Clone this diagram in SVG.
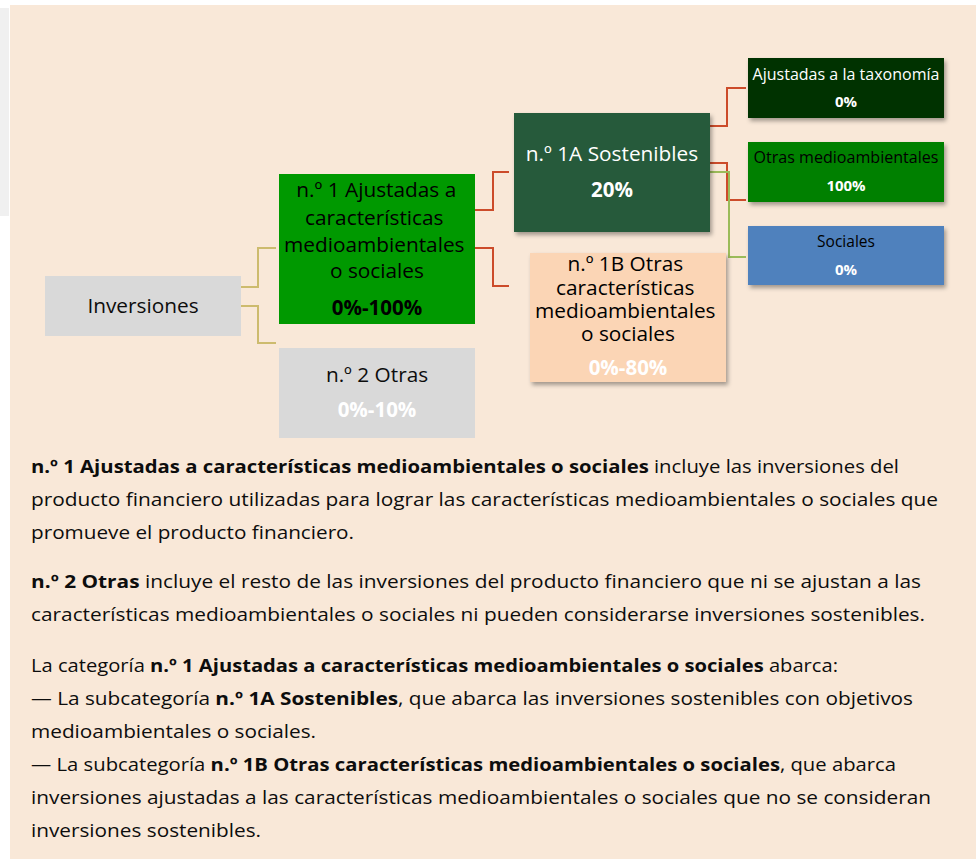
<svg xmlns="http://www.w3.org/2000/svg" width="976" height="859" viewBox="0 0 976 859">
<defs>
<filter id="sh" x="-10%" y="-10%" width="125%" height="130%">
<feDropShadow dx="2" dy="3" stdDeviation="2" flood-color="#000" flood-opacity="0.35"/>
</filter>
<style>
.t{font-family:"Open Sans","Noto Sans","Liberation Sans",sans-serif;}
.n{font-size:20.8px;text-anchor:middle;}
.p{font-size:20.5px;font-weight:bold;text-anchor:middle;}
.s{font-size:15.5px;text-anchor:middle;}
.sp{font-size:15px;font-weight:bold;text-anchor:middle;fill:#fff;}
.b{font-size:18.5px;fill:#0d0d0d;}
.b tspan.k{font-weight:bold;}
.c{fill:none;stroke-width:2;}
.cy{stroke:#CDBB6E;}
.cr{stroke:#CC4B2A;}
.cg{stroke:#9BBB59;}
</style>
</defs>
<rect x="0" y="0" width="976" height="859" fill="#ffffff"/>
<rect x="0" y="8" width="9" height="208" fill="#F0F0F0"/>
<rect x="10" y="5" width="966" height="854" fill="#F9E8D8"/>

<g id="connectors">
<path class="c cy" d="M241,287 H258 V248 H276"/>
<path class="c cy" d="M241,306 H258 V343 H276"/>
<path class="c cr" d="M475,210 H493 V172 H509"/>
<path class="c cr" d="M475,248 H493 V286 H509"/>
<path class="c cr" d="M710,126 H727 V88 H746"/>
<path class="c cr" d="M710,163 H727 V200 H746"/>
<path class="c cg" d="M710,172 H729 V257 H746"/>
</g>

<g id="inversiones">
<rect x="45" y="276" width="196" height="60" fill="#D9D9D9"/>
<text class="t n" x="143" y="313" fill="#0d0d0d">Inversiones</text>
</g>

<g id="n1">
<rect x="279" y="174" width="196" height="150" fill="#009900"/>
<text class="t n" fill="#000">
<tspan x="379" y="197">n.º 1 Ajustadas a</tspan>
<tspan x="377" y="225">características</tspan>
<tspan x="377" y="252">medioambientales</tspan>
<tspan x="377" y="278">o sociales</tspan>
</text>
<text class="t p" x="377" y="315" fill="#000">0%-100%</text>
</g>

<g id="n2">
<rect x="279" y="348" width="196" height="90" fill="#D9D9D9"/>
<text class="t n" x="377" y="382" fill="#0d0d0d">n.º 2 Otras</text>
<text class="t p" x="377" y="417" fill="#fff">0%-10%</text>
</g>

<g id="n1a">
<rect x="514" y="113" width="196" height="119" fill="#255A3B" filter="url(#sh)"/>
<text class="t n" x="612" y="161" fill="#fff">n.º 1A Sostenibles</text>
<text class="t p" x="612" y="197" fill="#fff">20%</text>
</g>

<g id="n1b">
<rect x="530" y="253" width="196" height="129" fill="#FBD5B5" filter="url(#sh)"/>
<text class="t n" fill="#000">
<tspan x="628" y="271">n.º 1B Otras</tspan>
<tspan x="628" y="295">características</tspan>
<tspan x="628" y="318">medioambientales</tspan>
<tspan x="628" y="341">o sociales</tspan>
</text>
<text class="t p" x="628" y="375" fill="#fff">0%-80%</text>
</g>

<g id="taxonomia">
<rect x="748" y="58" width="196" height="60" fill="#003300" filter="url(#sh)"/>
<text class="t s" x="846" y="80" fill="#fff" textLength="187" lengthAdjust="spacingAndGlyphs">Ajustadas a la taxonomía</text>
<text class="t sp" x="846" y="107">0%</text>
</g>

<g id="otras-medio">
<rect x="748" y="142" width="196" height="60" fill="#008000" filter="url(#sh)"/>
<text class="t s" x="846" y="163" fill="#000" textLength="185" lengthAdjust="spacingAndGlyphs">Otras medioambientales</text>
<text class="t sp" x="846" y="191">100%</text>
</g>

<g id="sociales">
<rect x="748" y="226" width="196" height="59" fill="#4F81BD" filter="url(#sh)"/>
<text class="t s" x="846" y="247" fill="#000">Sociales</text>
<text class="t sp" x="846" y="275">0%</text>
</g>

<g id="texto">
<text class="t b" x="31" y="473" textLength="868" lengthAdjust="spacingAndGlyphs"><tspan class="k">n.º 1 Ajustadas a características medioambientales o sociales</tspan> incluye las inversiones del</text>
<text class="t b" x="31" y="506" textLength="907" lengthAdjust="spacingAndGlyphs">producto financiero utilizadas para lograr las características medioambientales o sociales que</text>
<text class="t b" x="31" y="539" textLength="323" lengthAdjust="spacingAndGlyphs">promueve el producto financiero.</text>
<text class="t b" x="31" y="588" textLength="890" lengthAdjust="spacingAndGlyphs"><tspan class="k">n.º 2 Otras</tspan> incluye el resto de las inversiones del producto financiero que ni se ajustan a las</text>
<text class="t b" x="31" y="621" textLength="894" lengthAdjust="spacingAndGlyphs">características medioambientales o sociales ni pueden considerarse inversiones sostenibles.</text>
<text class="t b" x="31" y="672" textLength="807" lengthAdjust="spacingAndGlyphs">La categoría <tspan class="k">n.º 1 Ajustadas a características medioambientales o sociales</tspan> abarca:</text>
<text class="t b" x="31" y="705" textLength="882" lengthAdjust="spacingAndGlyphs">— La subcategoría <tspan class="k">n.º 1A Sostenibles</tspan>, que abarca las inversiones sostenibles con objetivos</text>
<text class="t b" x="31" y="738" textLength="285" lengthAdjust="spacingAndGlyphs">medioambientales o sociales.</text>
<text class="t b" x="31" y="771" textLength="865" lengthAdjust="spacingAndGlyphs">— La subcategoría <tspan class="k">n.º 1B Otras características medioambientales o sociales</tspan>, que abarca</text>
<text class="t b" x="31" y="804" textLength="900" lengthAdjust="spacingAndGlyphs">inversiones ajustadas a las características medioambientales o sociales que no se consideran</text>
<text class="t b" x="31" y="837" textLength="230" lengthAdjust="spacingAndGlyphs">inversiones sostenibles.</text>
</g>
</svg>
